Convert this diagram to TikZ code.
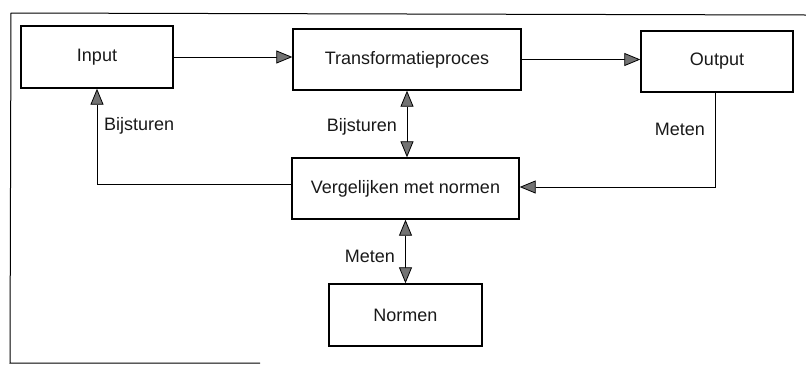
\documentclass[tikz,border=0pt]{standalone}
\usepackage{fontspec}
\setmainfont{Liberation Sans}
\usetikzlibrary{arrows.meta}
\begin{document}
\begin{tikzpicture}[x=1pt,y=-1pt,
  txt/.style={font=\fontsize{18}{21}\selectfont, text=black!90},
  box/.style={txt, draw=black, line width=1.4pt, inner sep=0pt},
  lbl/.style={txt, inner sep=0pt},
  tip/.tip={Triangle[length=16pt,width=13pt,fill=black!55,line width=0.8pt]},
  arr/.style={draw=black, line width=1pt, -tip},
  darr/.style={draw=black, line width=1pt, tip-tip},
  frame/.style={draw=black, line width=1pt}]
\useasboundingbox (0,0) rectangle (806,365);

% open outer frame
\coordinate (ftr) at (806,15);
\coordinate (ftl) at (11,13);
\coordinate (fbl) at (10,363);
\coordinate (fbr) at (260,363);
\draw[frame] (ftr) -- (ftl) -- (fbl) -- (fbr);

% process blocks
\node[box, minimum width=152pt, minimum height=62pt] (in)  at (97,57)    {Input};
\node[box, minimum width=228pt, minimum height=61pt] (tr)  at (407,59.5) {Transformatieproces};
\node[box, minimum width=152pt, minimum height=61pt] (out) at (717,61.5) {Output};
\node[box, minimum width=227pt, minimum height=61pt] (ver) at (405.5,188.5) {Vergelijken met normen};
\node[box, minimum width=153pt, minimum height=62pt] (nor) at (405.5,315) {Normen};

% forward flow
\draw[arr] (in.east) -- (in.east -| tr.west);
\draw[arr] (tr.east) -- (tr.east -| out.west);

% control loops
\draw[darr] (tr.south) -- (tr.south |- ver.north);
\draw[darr] (ver.south) -- (ver.south |- nor.north);
\coordinate (mtap) at (715,92);
\draw[arr] (mtap) |- ([yshift=1.5pt]ver.east);
\draw[arr] ([yshift=4pt]ver.west) -| (in.south);

% labels
\node[lbl, anchor=base west] (l1) at (104,130) {Bijsturen};
\node[lbl, anchor=base east] (l2) at (397,131.5) {Bijsturen};
\node[lbl, anchor=base east] (l3) at (705,135) {Meten};
\node[lbl, anchor=base east] (l4) at (395,262) {Meten};
\end{tikzpicture}
\end{document}
